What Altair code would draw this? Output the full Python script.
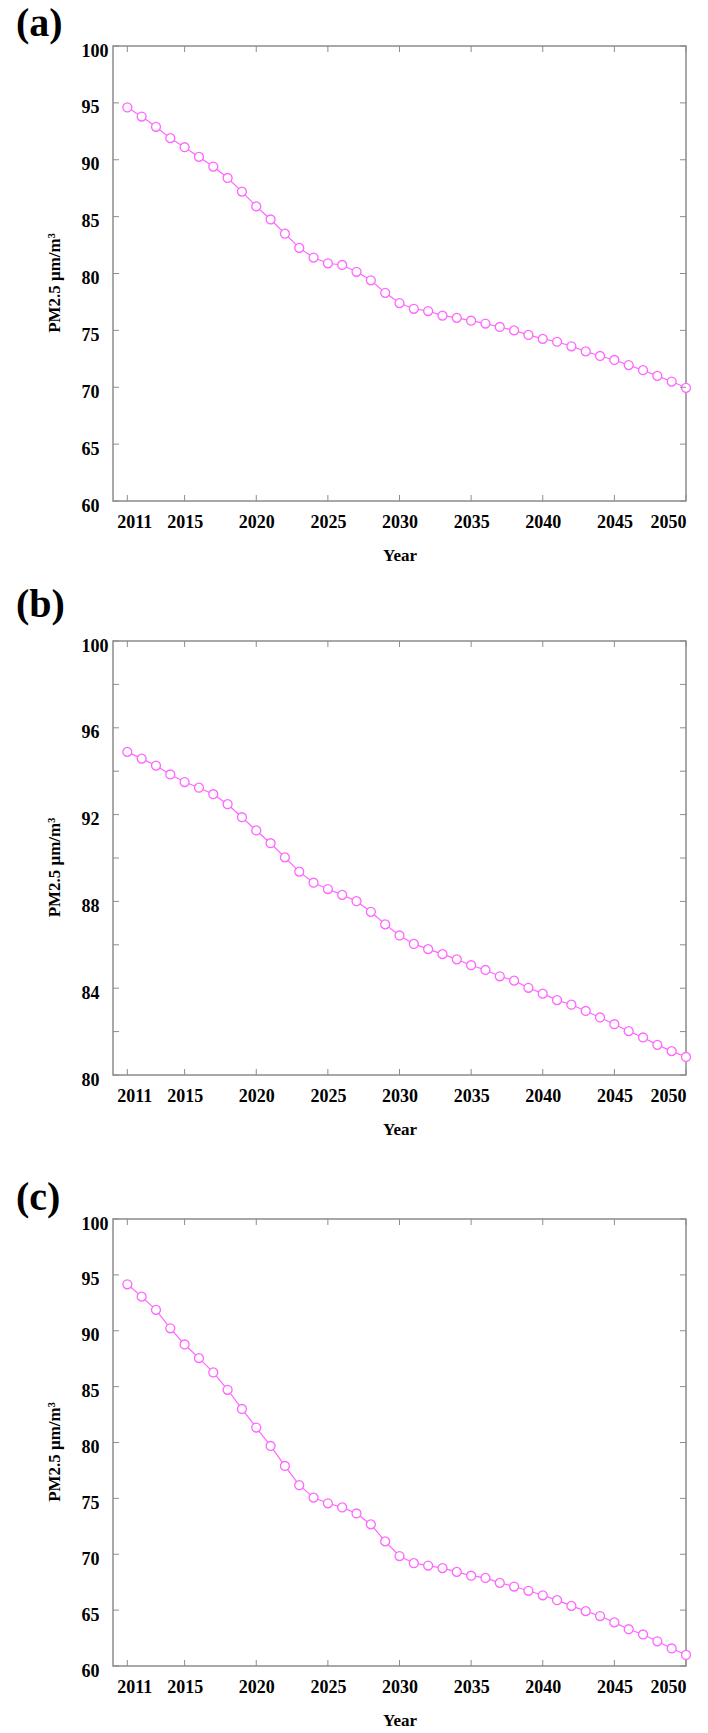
import altair as alt
import pandas as pd

years = list(range(2011, 2051))

pm_a = [94.6, 93.8, 92.9, 91.9, 91.1, 90.25, 89.4, 88.4, 87.2, 85.9,
        84.75, 83.5, 82.25, 81.4, 80.9, 80.75, 80.15, 79.4, 78.3, 77.4,
        76.9, 76.7, 76.3, 76.1, 75.85, 75.6, 75.3, 75.0, 74.6, 74.25,
        74.0, 73.6, 73.15, 72.75, 72.4, 71.95, 71.5, 71.0, 70.5, 69.95]

pm_b = [94.89, 94.58, 94.26, 93.85, 93.5, 93.24, 92.94, 92.48, 91.88, 91.27,
        90.68, 90.03, 89.37, 88.86, 88.57, 88.3, 88.01, 87.52, 86.94, 86.43,
        86.04, 85.8, 85.57, 85.33, 85.06, 84.84, 84.55, 84.35, 84.02, 83.75,
        83.45, 83.24, 82.95, 82.65, 82.34, 82.02, 81.73, 81.39, 81.1, 80.83]

pm_c = [94.16, 93.05, 91.87, 90.22, 88.77, 87.55, 86.27, 84.72, 83.0, 81.34,
        79.69, 77.9, 76.18, 75.07, 74.56, 74.19, 73.65, 72.67, 71.15, 69.84,
        69.2, 68.99, 68.76, 68.42, 68.08, 67.88, 67.44, 67.11, 66.73, 66.33,
        65.89, 65.38, 64.91, 64.47, 63.9, 63.29, 62.82, 62.21, 61.57, 60.99]

x_ticks = [2011, 2015, 2020, 2025, 2030, 2035, 2040, 2045, 2050]
y_ticks_a = [60, 65, 70, 75, 80, 85, 90, 95, 100]
y_ticks_b = [80, 82, 84, 86, 88, 90, 92, 94, 96, 98, 100]
y_labels_b = [80, 84, 88, 92, 96, 100]
y_ticks_c = [60, 65, 70, 75, 80, 85, 90, 95, 100]

PINK = "#ff66ff"
GRAY = "#8c8c8c"
FONT = "Liberation Serif"
W = 573
TICK = 6


def panel(values, ydom, yticks, ylabels, letter, h, toff):
    df = pd.DataFrame({"year": years, "pm": values})
    xs = alt.Scale(domain=[2010, 2050], nice=False, zero=False)
    ys = alt.Scale(domain=ydom, nice=False, zero=False)
    xaxis = alt.Axis(values=x_ticks, format="d", title="Year",
                     labelOffset={"condition": {"test": "datum.value === 2011", "value": 7}, "value": 0},
                     labelPadding=12, titlePadding=16)
    yaxis = alt.Axis(values=ylabels, format="d", title="PM2.5 μm/m³",
                     labelAlign="left", labelPadding=32, labelBaseline="middle",
                     labelOffset=5, titlePadding=18, titleY=h / 2 + 9)
    line = alt.Chart(df).mark_line(color=PINK, strokeWidth=1.2).encode(
        x=alt.X("year:Q", scale=xs, axis=xaxis),
        y=alt.Y("pm:Q", scale=ys, axis=yaxis),
    )
    pts = alt.Chart(df).mark_point(shape="circle", filled=True, fill="white",
                                    stroke=PINK, strokeWidth=1.3, size=80, opacity=1).encode(
        x=alt.X("year:Q", scale=xs, axis=xaxis),
        y=alt.Y("pm:Q", scale=ys, axis=yaxis),
    )
    xt = pd.DataFrame({"t": x_ticks})
    yt = pd.DataFrame({"t": yticks})
    top = alt.Chart(xt).mark_rule(color=GRAY, strokeWidth=1).encode(
        x=alt.X("t:Q", scale=xs, axis=xaxis), y=alt.value(0), y2=alt.value(TICK))
    bot = alt.Chart(xt).mark_rule(color=GRAY, strokeWidth=1).encode(
        x=alt.X("t:Q", scale=xs, axis=xaxis), y=alt.value(h), y2=alt.value(h - TICK))
    lft = alt.Chart(yt).mark_rule(color=GRAY, strokeWidth=1).encode(
        y=alt.Y("t:Q", scale=ys, axis=yaxis), x=alt.value(0), x2=alt.value(TICK))
    rgt = alt.Chart(yt).mark_rule(color=GRAY, strokeWidth=1).encode(
        y=alt.Y("t:Q", scale=ys, axis=yaxis), x=alt.value(W), x2=alt.value(W - TICK))
    return alt.layer(line, pts, top, bot, lft, rgt).properties(
        width=W, height=h,
        title=alt.TitleParams(letter, anchor="start", frame="group", dx=-97, font=FONT,
                              fontSize=40, fontWeight="bold", color="black", offset=toff),
    )


a = panel(pm_a, [60, 100], y_ticks_a, y_ticks_a, "(a)", 455, -2)
b = panel(pm_b, [80, 100], y_ticks_b, y_labels_b, "(b)", 434, 12)
c = panel(pm_c, [60, 100], y_ticks_c, y_ticks_c, "(c)", 447, -3)

chart = alt.vconcat(alt.vconcat(a, b, spacing=20), c, spacing=39).properties(
    padding={"left": 15, "top": 3, "right": 0, "bottom": 2},
    background="white",
).configure_view(
    stroke=GRAY, strokeWidth=1.5
).configure_axis(
    domain=False, ticks=False, tickSize=0, grid=False,
    labelFont=FONT, labelFontWeight="bold", labelFontSize=18, labelColor="black",
    titleFont=FONT, titleFontWeight="bold", titleFontSize=17, titleColor="black",
)

chart.save("out.html", embed_options={"renderer": "svg", "actions": False})
